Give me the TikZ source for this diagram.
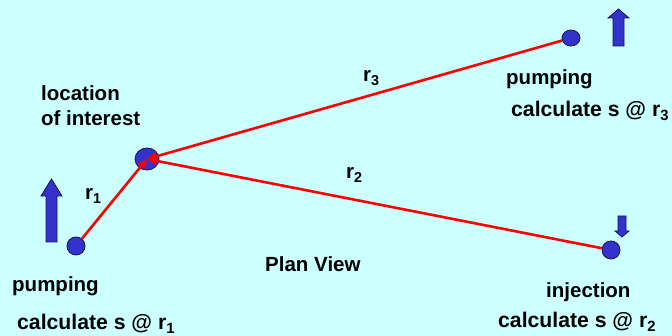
\documentclass[tikz,border=0pt]{standalone}
\usepackage{fontspec}
\setmainfont{Liberation Sans}
\usetikzlibrary{arrows.meta,shapes.geometric,positioning}
\definecolor{PlanBack}{RGB}{204,255,255}
\definecolor{WellBlue}{RGB}{51,51,204}
\definecolor{WellEdge}{RGB}{20,20,90}
\definecolor{FlowRed}{RGB}{255,0,0}
\tikzset{
  wdot/.style={circle,draw=WellEdge,fill=WellBlue,line width=0.8pt,inner sep=0pt,minimum size=18pt},
  locdot/.style={ellipse,draw=WellEdge,fill=WellBlue,line width=0.8pt,inner sep=0pt,minimum width=24pt,minimum height=22pt},
  lbl/.style={font=\fontsize{20.5}{25}\selectfont\bfseries,inner sep=0pt,anchor=base west},
  clbl/.style={font=\fontsize{21.2}{26}\selectfont\bfseries,inner sep=0pt,anchor=base west},
  flow/.style={-{Stealth[length=11pt,width=10pt]},FlowRed,line width=2.6pt},
  qarr/.style={draw=WellEdge,fill=WellBlue,line width=0.8pt},
}
\begin{document}
\begin{tikzpicture}[x=1pt,y=-1pt]
  \fill[PlanBack] (0,0) rectangle (672,336);
  \useasboundingbox (0,0) rectangle (672,336);
  % wells and location of interest
  \node[locdot] (loc) at (147,159) {};
  \node[wdot] (w1) at (76,246) {};
  \node[wdot] (w2) at (611,250) {};
  \node[wdot,minimum width=18pt,minimum height=16pt,ellipse] (w3) at (571,38) {};
  \draw[flow] (w1) -- (loc.center);
  \draw[flow] (w2) -- (loc.center);
  \draw[flow] (w3) -- (loc.center);
  % pumping / injection arrows
  \draw[qarr] (46,242) -- (46,196) -- (41,196) -- (51.5,179) -- (62,196) -- (57,196) -- (57,242) -- cycle;
  \draw[qarr] (613,46) -- (613,18) -- (608,18) -- (618.5,9) -- (629,18) -- (624,18) -- (624,46) -- cycle;
  \draw[qarr] (618,216) -- (618,231) -- (615,231) -- (622,237) -- (629,231) -- (626,231) -- (626,216) -- cycle;
  % labels
  \node[lbl,anchor=north west,align=left] (loi) at (41,85) {location\\of interest};
  \node[lbl] (r1) at (85,200) {r\textsubscript{1}};
  \node[lbl] (r3) at (363,82) {r\textsubscript{3}};
  \node[lbl] (r2) at (346,179) {r\textsubscript{2}};
  \node[lbl] (pv) at (265,272) {Plan View};
  \node[lbl] (pump1) at (12,292) {pumping};
  \node[clbl] (calc1) at (17,330) {calculate s @ r\textsubscript{1}};
  \node[lbl] (pump3) at (506,85) {pumping};
  \node[clbl] (calc3) at (511,117) {calculate s @ r\textsubscript{3}};
  \node[lbl] (inj) at (546,298) {injection};
  \node[clbl] (calc2) at (498,328) {calculate s @ r\textsubscript{2}};
\end{tikzpicture}
\end{document}
